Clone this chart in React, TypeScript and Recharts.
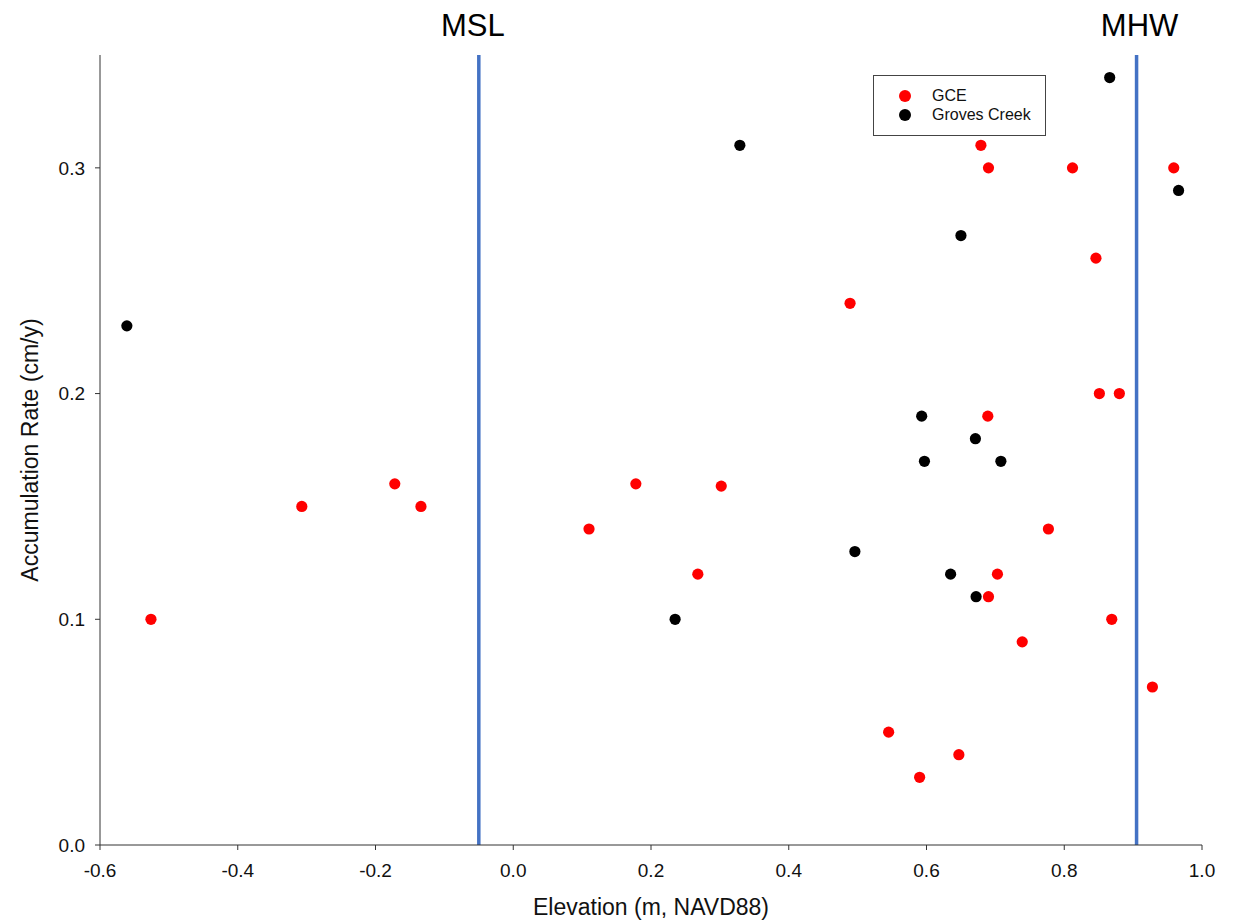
import { ScatterChart, Scatter, XAxis, YAxis, ReferenceLine, Legend } from 'recharts';

// elevation (m, NAVD88) and accumulation rate (cm/y)
const gceX = [-0.526, -0.307, -0.172, -0.134, 0.110, 0.178, 0.268, 0.302, 0.489, 0.545, 0.590, 0.647, 0.679, 0.690, 0.689, 0.690, 0.703, 0.739, 0.777, 0.812, 0.846, 0.851, 0.880, 0.869, 0.928, 0.959];
const gceY = [0.10, 0.15, 0.16, 0.15, 0.14, 0.16, 0.12, 0.159, 0.24, 0.05, 0.03, 0.04, 0.31, 0.30, 0.19, 0.11, 0.12, 0.09, 0.14, 0.30, 0.26, 0.20, 0.20, 0.10, 0.07, 0.30];

const grovesX = [-0.561, 0.235, 0.329, 0.496, 0.593, 0.597, 0.635, 0.650, 0.671, 0.672, 0.708, 0.866, 0.966];
const grovesY = [0.23, 0.10, 0.31, 0.13, 0.19, 0.17, 0.12, 0.27, 0.18, 0.11, 0.17, 0.34, 0.29];

const xTicks = [-0.6, -0.4, -0.2, 0.0, 0.2, 0.4, 0.6, 0.8, 1.0];
const yTicks = [0.0, 0.1, 0.2, 0.3];

const MSL = -0.05;
const MHW = 0.905;

const FONT = '"Liberation Sans", Arial, sans-serif';
const AXIS = '#333333';
const BLUE = '#4472C4';

const gceData = gceX.map((x, i) => ({ x, y: gceY[i] }));
const grovesData = grovesX.map((x, i) => ({ x, y: grovesY[i] }));

const series = [
  { name: 'GCE', color: '#ff0000' },
  { name: 'Groves Creek', color: '#000000' },
];

function dot(color: string) {
  return (p: any) => <circle cx={p.cx} cy={p.cy} r={5.6} fill={color} />;
}

function RefLabel(props: any) {
  const { viewBox, text, dx = 0 } = props;
  if (!viewBox) return null;
  return (
    <text
      x={viewBox.x + dx}
      y={viewBox.y - 19}
      textAnchor="middle"
      fontSize={31}
      fontFamily={FONT}
      fill="#000"
    >
      {text}
    </text>
  );
}

function LegendBox() {
  return (
    <div
      style={{
        width: 173,
        height: 61,
        boxSizing: 'border-box',
        border: '1px solid #444',
        background: '#fff',
        fontFamily: FONT,
        fontSize: 16,
        color: '#111',
        paddingTop: 10,
      }}
    >
      {series.map((s) => (
        <div key={s.name} style={{ display: 'flex', alignItems: 'center', height: 19 }}>
          <svg width={58} height={19}>
            <circle cx={31} cy={10} r={6} fill={s.color} />
          </svg>
          <span>{s.name}</span>
        </div>
      ))}
    </div>
  );
}

export default function App() {
  return (
    <div style={{ position: 'absolute', left: 0, top: 0, width: 1243, height: 924, background: '#fff' }}>
      <ScatterChart width={1243} height={924} margin={{ top: 55, right: 41, bottom: 39, left: 0 }}>
        <XAxis
          type="number"
          dataKey="x"
          domain={[-0.6, 1.0]}
          ticks={xTicks}
          tickFormatter={(v: number) => v.toFixed(1)}
          height={40}
          tickSize={5}
          tickMargin={14}
          axisLine={{ stroke: AXIS }}
          tickLine={{ stroke: AXIS }}
          tick={{ fill: '#111', fontSize: 19, fontFamily: FONT }}
          label={{ value: 'Elevation (m, NAVD88)', position: 'bottom', offset: 14, fill: '#111', fontSize: 23, fontFamily: FONT }}
        />
        <YAxis
          type="number"
          dataKey="y"
          domain={[0, 0.35]}
          ticks={yTicks}
          tickFormatter={(v: number) => v.toFixed(1)}
          width={100}
          tickSize={5}
          tickMargin={10}
          axisLine={{ stroke: AXIS }}
          tickLine={{ stroke: AXIS }}
          tick={{ fill: '#111', fontSize: 19, fontFamily: FONT }}
          label={{
            value: 'Accumulation Rate (cm/y)',
            angle: -90,
            position: 'insideLeft',
            offset: 30,
            style: { textAnchor: 'middle' },
            fill: '#111',
            fontSize: 23,
            fontFamily: FONT,
          }}
        />
        <ReferenceLine x={MSL} stroke={BLUE} strokeWidth={3.5} label={<RefLabel text="MSL" dx={-6} />} />
        <ReferenceLine x={MHW} stroke={BLUE} strokeWidth={3.5} label={<RefLabel text="MHW" dx={3} />} />
        <Scatter name="GCE" data={gceData} fill="#ff0000" shape={dot('#ff0000')} isAnimationActive={false} />
        <Scatter name="Groves Creek" data={grovesData} fill="#000000" shape={dot('#000000')} isAnimationActive={false} />
        <Legend
          layout="vertical"
          align="center"
          verticalAlign="middle"
          content={() => <LegendBox />}
          wrapperStyle={{ position: 'absolute', left: 873, top: 75, width: 173, height: 61 }}
        />
      </ScatterChart>
    </div>
  );
}
